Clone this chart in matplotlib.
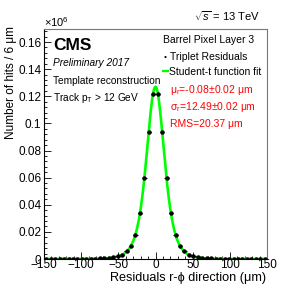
import numpy as np
import matplotlib
matplotlib.use("Agg")
import matplotlib.pyplot as plt
from matplotlib.ticker import MultipleLocator, FixedLocator, FixedFormatter

# ---- data (units of 10^6 hits per 6 um bin) ----
bin_centers = np.arange(-147, 150, 6)
abs_vals = [0.1215, 0.0935, 0.0598, 0.0338, 0.0180, 0.0098, 0.0056, 0.0031,
            0.0019, 0.0012, 0.0008, 0.0006, 0.00045, 0.00035, 0.0003, 0.00025,
            0.0002, 0.00018, 0.00015, 0.00013, 0.00012, 0.0001, 0.00009,
            0.00008, 0.00007]
left_vals = abs_vals[::-1]
right_vals = abs_vals
counts = np.array(left_vals + right_vals)
bin_half_width = 3.0

# fit parameters (Student-t)
fit_mu = -0.08
fit_sigma = 12.49
fit_nu = 4.5
fit_amp = 0.127

yticks = [0, 0.02, 0.04, 0.06, 0.08, 0.10, 0.12, 0.14, 0.16]
ytick_labels = ["0", "0.02", "0.04", "0.06", "0.08", "0.1", "0.12", "0.14", "0.16"]
xticks = [-150, -100, -50, 0, 50, 100, 150]
xtick_labels = ["\u2212150", "\u2212100", "\u221250", "0", "50", "100", "150"]

plt.rcParams['font.family'] = ['Liberation Sans', 'DejaVu Sans']
plt.rcParams['mathtext.fontset'] = 'custom'
plt.rcParams['mathtext.rm'] = 'Liberation Sans'
plt.rcParams['mathtext.it'] = 'Liberation Sans:italic'

W, H = 297, 288
fig = plt.figure(figsize=(W / 100, H / 100), dpi=100)
ax = fig.add_axes([44 / W, 1 - 259 / H, (267 - 44) / W, (259 - 29) / H])

xf = np.linspace(-150, 150, 1201)
yf = fit_amp * (1 + ((xf - fit_mu) / fit_sigma) ** 2 / fit_nu) ** (-(fit_nu + 1) / 2)
ax.plot(xf, yf, color='#00ff00', lw=1.9, zorder=2)

ax.errorbar(bin_centers, counts, xerr=bin_half_width, fmt='o', color='black',
            ms=2.2, elinewidth=0.8, capsize=0, zorder=3)

ax.set_xlim(-150, 150)
ax.set_ylim(0, 0.1696)
ax.xaxis.set_major_locator(FixedLocator(xticks))
ax.xaxis.set_major_formatter(FixedFormatter(xtick_labels))
ax.xaxis.set_minor_locator(MultipleLocator(10))
ax.yaxis.set_major_locator(FixedLocator(yticks))
ax.yaxis.set_major_formatter(FixedFormatter(ytick_labels))
ax.yaxis.set_minor_locator(MultipleLocator(0.004))
ax.tick_params(which='both', direction='in', top=False, right=False,
               labelsize=8.5, width=0.6)
ax.tick_params(axis='y', pad=2)
ax.tick_params(axis='x', pad=0.3)
ax.tick_params(which='major', length=5)
ax.tick_params(which='minor', length=2.5)
for s in ['top', 'right']:
    ax.spines[s].set_color('#777777')
    ax.spines[s].set_linewidth(0.8)
for s in ['left', 'bottom']:
    ax.spines[s].set_linewidth(0.8)

def fx(px):
    return px / W

def fy(py):
    return 1 - py / H

fig.text(fx(11), fy(26), "Number of hits / 6 \u03bcm", rotation=90, ha='center',
         va='top', fontsize=8.5)
fig.text(fx(266), fy(278), "Residuals r-\u03d5 direction (\u03bcm)", ha='right',
         va='center', fontsize=9.1)
fig.text(fx(44), fy(22), r"$\times10^{6}$", ha='left', va='center', fontsize=8)
fig.text(fx(260), fy(16), r"$\sqrt{s}$ = 13 TeV", ha='right', va='center', fontsize=8)

fig.text(fx(53), fy(45), "CMS", fontweight='bold', fontsize=12.5, ha='left', va='center')
fig.text(fx(53), fy(63), "Preliminary 2017", fontstyle='italic', fontsize=7.3,
         ha='left', va='center')
fig.text(fx(53), fy(81), "Template reconstruction", fontsize=7.3, ha='left', va='center')
fig.text(fx(53), fy(98), r"Track p$_{\mathrm{T}}$ > 12 GeV", fontsize=7.3,
         ha='left', va='center')

fig.text(fx(163), fy(40), "Barrel Pixel Layer 3", fontsize=7.5, ha='left', va='center')
fig.text(fx(164), fy(57), "\u2022", fontsize=6, ha='left', va='center')
fig.text(fx(170), fy(57), "Triplet Residuals", fontsize=7.5, ha='left', va='center')
fig.add_artist(plt.Line2D([fx(163), fx(168)], [fy(71), fy(71)], color='#00ff00',
                          lw=1.6, transform=fig.transFigure))
fig.text(fx(169), fy(72), "Student-t function fit", fontsize=7.5, ha='left', va='center')
red = '#ff0000'
fig.text(fx(170), fy(90), "\u03bc" + r"$_{\mathrm{r}}$" + "=-0.08\u00b10.02 \u03bcm",
         fontsize=7.5, color=red, ha='left', va='center')
fig.text(fx(170), fy(107), "\u03c3" + r"$_{\mathrm{r}}$" + "=12.49\u00b10.02 \u03bcm",
         fontsize=7.5, color=red, ha='left', va='center')
fig.text(fx(170), fy(124), "RMS=20.37 \u03bcm", fontsize=7.5, color=red,
         ha='left', va='center')

fig.savefig("out.png", dpi=100)
